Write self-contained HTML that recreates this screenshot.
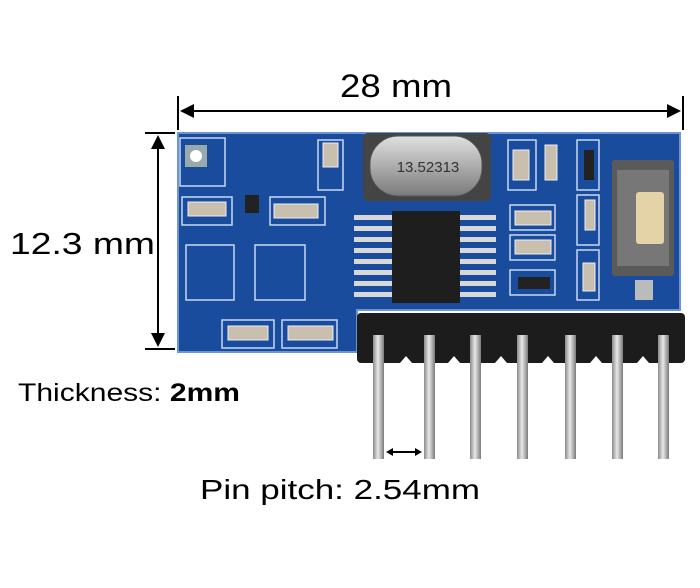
<!DOCTYPE html>
<html><head><style>
body{margin:0;background:#fff;width:700px;height:583px;overflow:hidden;font-family:"Liberation Sans",sans-serif}
</style></head><body>
<svg width="700" height="583" xmlns="http://www.w3.org/2000/svg">
<defs>
<linearGradient id="pin" x1="0" x2="1"><stop offset="0" stop-color="#8a8a8a"/><stop offset="0.45" stop-color="#e8e8e8"/><stop offset="1" stop-color="#7a7a7a"/></linearGradient>
<linearGradient id="xt" x1="0" y1="0" x2="0" y2="1"><stop offset="0" stop-color="#e0e0e0"/><stop offset="1" stop-color="#7a7a7a"/></linearGradient>
</defs>
<g stroke="#000" stroke-width="2" fill="none">
<line x1="178" y1="96" x2="178" y2="130"/><line x1="683" y1="96" x2="683" y2="130"/>
<line x1="182" y1="111" x2="679" y2="111"/>
<line x1="145" y1="133" x2="175" y2="133"/><line x1="145" y1="349" x2="175" y2="349"/>
<line x1="158" y1="137" x2="158" y2="345"/>
</g>
<g fill="#000">
<polygon points="180,111 194,104 194,118"/><polygon points="681,111 667,104 667,118"/>
<polygon points="158,135 151,149 165,149"/><polygon points="158,347 151,333 165,333"/>
</g>
<text x="340" y="97" font-size="32" textLength="112" lengthAdjust="spacingAndGlyphs">28 mm</text>
<text x="10" y="254" font-size="31" textLength="145" lengthAdjust="spacingAndGlyphs">12.3 mm</text>
<text x="18" y="401" font-size="25" textLength="222" lengthAdjust="spacingAndGlyphs">Thickness: <tspan font-weight="bold">2mm</tspan></text>
<text x="200" y="499" font-size="28" textLength="280" lengthAdjust="spacingAndGlyphs">Pin pitch: 2.54mm</text>
<path d="M178,133 H680 V310 H357 V352 H178 Z" fill="#1a4c9e"/>
<path d="M178,133 H680 V310 H357 V352 H178 Z" fill="none" stroke="#6d95d6" stroke-width="2"/>
<g fill="none" stroke="#c8d8f0" stroke-width="1.5">
<rect x="180" y="138" width="45" height="48"/>
<rect x="182" y="197" width="50" height="28"/><rect x="270" y="197" width="55" height="28"/>
<rect x="186" y="245" width="48" height="55"/><rect x="255" y="245" width="50" height="55"/>
<rect x="318" y="140" width="25" height="50"/><rect x="508" y="140" width="28" height="50"/>
<rect x="510" y="205" width="45" height="25"/><rect x="510" y="235" width="45" height="25"/><rect x="510" y="270" width="45" height="25"/>
<rect x="577" y="140" width="22" height="50"/><rect x="577" y="195" width="22" height="50"/><rect x="577" y="250" width="22" height="50"/>
<rect x="222" y="320" width="52" height="28"/><rect x="282" y="320" width="55" height="28"/>
</g>
<rect x="185" y="145" width="22" height="22" fill="#9aa"/><circle cx="196" cy="156" r="6" fill="#fff"/>
<g fill="#c9bfae" stroke="#eee" stroke-width="1">
<rect x="188" y="202" width="38" height="14"/><rect x="274" y="204" width="44" height="14"/>
<rect x="323" y="143" width="15" height="24"/><rect x="513" y="150" width="16" height="30"/>
<rect x="515" y="211" width="36" height="14"/><rect x="515" y="240" width="36" height="14"/>
<rect x="585" y="200" width="10" height="30"/><rect x="583" y="263" width="12" height="28"/>
<rect x="228" y="326" width="40" height="14"/><rect x="288" y="326" width="45" height="14"/>
<rect x="545" y="145" width="12" height="35"/>
</g>
<rect x="245" y="195" width="14" height="18" fill="#222"/>
<rect x="518" y="277" width="32" height="12" fill="#222"/><rect x="584" y="150" width="10" height="30" fill="#222"/>
<rect x="363" y="133" width="128" height="68" rx="5" fill="#444"/>
<rect x="370" y="136" width="112" height="60" rx="28" fill="url(#xt)" stroke="#555"/>
<text x="428" y="172" font-size="15" text-anchor="middle" fill="#333">13.52313</text>
<g fill="#d8d8d8">
<rect x="354" y="215" width="40" height="5"/><rect x="354" y="226" width="40" height="5"/><rect x="354" y="237" width="40" height="5"/><rect x="354" y="248" width="40" height="5"/><rect x="354" y="259" width="40" height="5"/><rect x="354" y="270" width="40" height="5"/><rect x="354" y="281" width="40" height="5"/><rect x="354" y="292" width="40" height="5"/>
<rect x="458" y="215" width="38" height="5"/><rect x="458" y="226" width="38" height="5"/><rect x="458" y="237" width="38" height="5"/><rect x="458" y="248" width="38" height="5"/><rect x="458" y="259" width="38" height="5"/><rect x="458" y="270" width="38" height="5"/><rect x="458" y="281" width="38" height="5"/><rect x="458" y="292" width="38" height="5"/>
</g>
<rect x="392" y="211" width="68" height="92" fill="#1e1e1e"/>
<rect x="612" y="160" width="62" height="116" rx="3" fill="#5a5a5a"/>
<rect x="617" y="170" width="52" height="96" fill="#777"/>
<rect x="636" y="192" width="28" height="52" rx="3" fill="#e3d3a6"/>
<rect x="635" y="280" width="18" height="20" fill="#bbb"/>
<rect x="357" y="313" width="328" height="50" rx="4" fill="#1c1c1c"/>
<g fill="#fff">
<polygon points="400,363 406,356 412,363"/><polygon points="448,363 454,356 460,363"/><polygon points="495,363 501,356 507,363"/><polygon points="542,363 548,356 554,363"/><polygon points="590,363 596,356 602,363"/><polygon points="637,363 643,356 649,363"/>
</g>
<g fill="url(#pin)">
<rect x="373" y="335" width="11" height="124"/><rect x="424" y="335" width="11" height="124"/><rect x="470" y="335" width="11" height="124"/><rect x="517" y="335" width="11" height="124"/><rect x="565" y="335" width="11" height="124"/><rect x="612" y="335" width="11" height="124"/><rect x="658" y="335" width="11" height="124"/>
</g>
<line x1="390" y1="452" x2="418" y2="452" stroke="#000" stroke-width="2"/>
<polygon points="386,452 393,448 393,456"/><polygon points="422,452 415,448 415,456"/>
</svg>
</body></html>
